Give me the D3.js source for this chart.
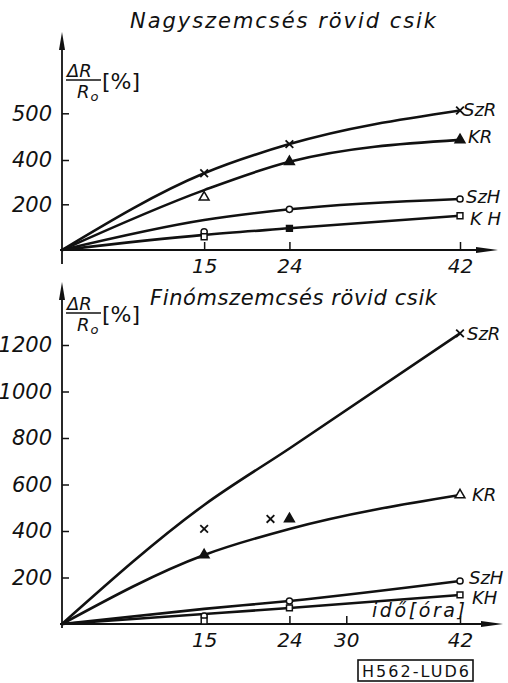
<!DOCTYPE html>
<html><head><meta charset="utf-8">
<script src="https://cdn.jsdelivr.net/npm/d3@7"></script>
<style>
html,body{margin:0;padding:0;background:#fff;}
svg{display:block;}
text{font-family:"DejaVu Sans",sans-serif;fill:#111;}
</style></head>
<body>
<svg id="c" width="508" height="683"></svg>
<script>
// ---------- DATA ----------
const hours = [0, 15, 24, 42];

// Top panel: Nagyszemcsés rövid csik
const topTitle = "Nagyszemcsés rövid csik";
const topTicksY = [200, 400, 500];
const topTicksX = [15, 24, 42];
const topSzR = [0, 340, 434, 506];
const topKR  = [0, 264, 392, 443];
const topSzH = [0, 131, 178, 224];
const topKH  = [0, 66, 95, 150];
const topSzRPts = [[15, 340, false], [24, 434, false], [42, 506, false]];
const topKRPts  = [[15, 232, false], [24, 392, true], [42, 443, true]];
const topSzHPts = [[15, 80, false], [24, 178, false], [42, 224, false]];
const topKHPts  = [[15, 58, false], [24, 95, true], [42, 150, false]];
const topLabels = ["SzR", "KR", "SzH", "K H"];

// Bottom panel: Finómszemcsés rövid csik
const botTitle = "Finómszemcsés rövid csik";
const botTicksY = [200, 400, 600, 800, 1000, 1200];
const botTicksX = [15, 24, 30, 42];
const botSzR = [0, 512, 755, 1250];
const botKR  = [0, 297, 409, 555];
const botSzH = [0, 65, 99, 185];
const botKH  = [0, 43, 69, 125];
const botSzRPts = [[15, 409, false], [22, 452, false], [42, 1250, false]];
const botKRPts  = [[15, 297, true], [24, 452, true], [42, 555, false]];
const botSzHPts = [[15, 34, false], [24, 99, false], [42, 185, false]];
const botKHPts  = [[15, 13, false], [24, 69, false], [42, 125, false]];
const botLabels = ["SzR", "KR", "SzH", "KH"];

const xLabel = "idő[óra]";
const stamp = "H562-LUD6";

// ---------- DRAW ----------
const svg = d3.select("#c");
const ink = "#111";
const ital = sel => sel.style("font-style", "italic");

function panel(cfg) {
  const g = svg.append("g");
  const x = d3.scaleLinear().domain([0, 42]).range([62, 460]);
  const y = d3.scaleLinear().domain(cfg.yDomain).range(cfg.yRange);
  const y0 = y(0);

  // axis lines with arrows
  g.append("line").attr("x1", 62).attr("x2", 62).attr("y1", y0 + cfg.below).attr("y2", cfg.yTop + 14)
    .attr("stroke", ink).attr("stroke-width", 1.8);
  g.append("path").attr("d", `M62,${cfg.yTop} L59,${cfg.yTop + 18} L65,${cfg.yTop + 18} Z`).attr("fill", ink);
  g.append("line").attr("x1", 60).attr("x2", cfg.xEnd - 10).attr("y1", y0).attr("y2", y0)
    .attr("stroke", ink).attr("stroke-width", 1.8);
  g.append("path").attr("d", `M${cfg.xEnd},${y0} L${cfg.xEnd - 22},${y0 - 3} L${cfg.xEnd - 22},${y0 + 3} Z`).attr("fill", ink);

  // axes via d3
  const ya = g.append("g").attr("transform", "translate(62,0)")
    .call(d3.axisLeft(y).tickValues(cfg.ticksY).tickSize(-7).tickPadding(10).tickFormat(d3.format("d")));
  ya.select(".domain").remove();
  ya.selectAll(".tick line").attr("stroke", ink).attr("stroke-width", 1.5);
  ya.selectAll(".tick text").attr("font-size", 21).attr("font-family", "DejaVu Sans").attr("fill", ink).call(ital);

  const xa = g.append("g").attr("transform", `translate(0,${y0})`)
    .call(d3.axisBottom(x).tickValues(cfg.ticksX).tickSize(-8).tickPadding(9).tickFormat(d3.format("d")));
  xa.select(".domain").remove();
  xa.selectAll(".tick line").attr("stroke", ink).attr("stroke-width", 1.5);
  xa.selectAll(".tick text").attr("font-size", 20).attr("font-family", "DejaVu Sans").attr("fill", ink).call(ital);

  // curves
  const line = d3.line().x((d, i) => x(hours[i])).y(d => y(d)).curve(d3.curveMonotoneX);
  cfg.series.forEach(s => {
    g.append("path").attr("d", line(s)).attr("fill", "none").attr("stroke", ink)
      .attr("stroke-width", 2.6).attr("stroke-linejoin", "round");
  });

  // markers
  const types = [d3.symbolX, d3.symbolTriangle, d3.symbolCircle, d3.symbolSquare];
  const sizes = [40, 42, 30, 34];
  cfg.points.forEach((pts, k) => {
    g.selectAll(null).data(pts).enter().append("path")
      .attr("transform", d => `translate(${x(d[0])},${y(d[1])})`)
      .attr("d", d3.symbol(types[k], sizes[k]))
      .attr("fill", d => (k === 0 ? "none" : (d[2] ? ink : "#fff")))
      .attr("stroke", ink).attr("stroke-width", k === 0 ? 1.8 : 1.5);
  });

  // series labels
  cfg.series.forEach((s, k) => {
    g.append("text").attr("x", x(42) + cfg.labDx[k]).attr("y", y(s[3]) + cfg.labDy[k])
      .attr("dy", "0.36em").attr("font-size", 18).call(ital).text(cfg.labels[k]);
  });

  // title
  g.append("text").attr("x", cfg.titleX).attr("y", cfg.titleY).attr("font-size", 21).call(ital)
    .attr("textLength", cfg.titleW).attr("lengthAdjust", "spacing").text(cfg.title);

  // y label ΔR / R0 [%]
  const ly = cfg.fracY;
  g.append("text").attr("x", 67).attr("y", ly - 3).attr("font-size", 18).call(ital).text("ΔR");
  g.append("line").attr("x1", 66).attr("x2", 101).attr("y1", ly).attr("y2", ly).attr("stroke", ink).attr("stroke-width", 1.3);
  const r = g.append("text").attr("x", 77).attr("y", ly + 18).attr("font-size", 18).call(ital);
  r.append("tspan").text("R");
  r.append("tspan").attr("font-size", 13).attr("dx", 1).attr("dy", 3).text("o");
  g.append("text").attr("x", 102).attr("y", ly + 9).attr("font-size", 22).style("font-style", "normal").text("[%]");
  return {x, y};
}

panel({
  yDomain: [0, 200, 400, 500], yRange: [250, 204.3, 160, 113.3], yTop: 32, below: 14, xEnd: 498,
  ticksY: topTicksY, ticksX: topTicksX,
  series: [topSzR, topKR, topSzH, topKH],
  points: [topSzRPts, topKRPts, topSzHPts, topKHPts],
  labels: topLabels, labDx: [3, 8, 6, 10], labDy: [-1, -3, -2, 3],
  title: topTitle, titleX: 130, titleY: 28, titleW: 306,
  fracY: 80
});

panel({
  yDomain: [0, 1200], yRange: [624, 345], yTop: 282, below: 4, xEnd: 503,
  ticksY: botTicksY, ticksX: botTicksX,
  series: [botSzR, botKR, botSzH, botKH],
  points: [botSzRPts, botKRPts, botSzHPts, botKHPts],
  labels: botLabels, labDx: [7, 12, 9, 12], labDy: [0, 0, -3, 3],
  title: botTitle, titleX: 150, titleY: 305, titleW: 287,
  fracY: 313
});

// x-axis label (bottom panel)
svg.append("text").attr("x", 372).attr("y", 617).attr("font-size", 19).call(ital)
  .attr("textLength", 93).attr("lengthAdjust", "spacing").text(xLabel);

// stamp box
const sb = svg.append("g");
sb.append("rect").attr("x", 358).attr("y", 660).attr("width", 115).attr("height", 21)
  .attr("fill", "none").attr("stroke", ink).attr("stroke-width", 1.6);
sb.append("text").attr("x", 362).attr("y", 677).attr("font-size", 16).style("font-style", "normal")
  .attr("textLength", 107).attr("lengthAdjust", "spacing").text(stamp);
</script>
</body></html>
